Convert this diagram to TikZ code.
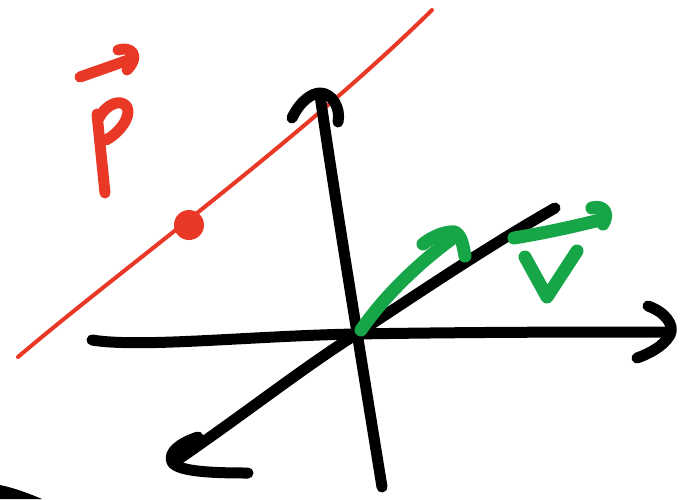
\documentclass[tikz,border=0pt]{standalone}
\definecolor{penred}{RGB}{234,56,38}
\definecolor{pengreen}{RGB}{22,166,72}
\tikzset{
  pen/.style={line cap=round, line join=round},
  axis/.style={pen, black, line width=11pt},
  gvec/.style={pen, pengreen, line width=13pt},
  rthin/.style={pen, penred, line width=4pt},
  rthick/.style={pen, penred, line width=11pt},
}
\begin{document}
\begin{tikzpicture}[x=1pt,y=-1pt]
\useasboundingbox (0,0) rectangle (680,499);
\fill[white] (0,0) rectangle (680,499);
% red line and point
\draw[rthin] (18,357) .. controls (120,270) and (300,140) .. (432,10);
\fill[penred] (189,225) circle (15);
% p with vector arrow
\draw[rthick] (80,77) -- (134,58);
\draw[rthick] (118,50) .. controls (131,46) and (141,55) .. (127,70);
\draw[rthick] (97,114) -- (105,193);
\draw[rthick] (99,118) .. controls (106,104) and (121,98) .. (127,107) .. controls (132,117) and (118,134) .. (106,140);
% vertical axis
\draw[axis] (382,487) .. controls (368,400) and (335,200) .. (320,95);
\draw[axis] (292,118) .. controls (300,101) and (312,93) .. (320,93) .. controls (332,93) and (341,108) .. (338,122);
% horizontal axis
\draw[axis] (92,340) .. controls (140,348) and (250,336) .. (355,334) .. controls (480,332) and (580,332) .. (668,332);
\draw[axis] (648,306) .. controls (665,312) and (675,325) .. (670,335) .. controls (663,347) and (648,354) .. (637,358);
% diagonal axis
\draw[axis] (176,461) .. controls (250,410) and (300,370) .. (355,335) .. controls (420,292) and (490,245) .. (555,208);
\draw[axis] (198,437) .. controls (180,443) and (168,452) .. (172,462) .. controls (178,472) and (215,473) .. (248,473);
% green vector
\draw[gvec] (361,330) .. controls (385,295) and (420,262) .. (453,238);
\draw[gvec] (423,244) .. controls (433,236) and (446,231) .. (455,232) .. controls (462,236) and (463,246) .. (465,256);
% green v label
\draw[gvec] (514,238) .. controls (550,232) and (580,225) .. (604,219);
\draw[gvec] (592,208) .. controls (602,205) and (610,212) .. (603,224);
\draw[gvec] (525,257) -- (547,297) -- (577,251);
% corner fragment
\fill[black] (0,485) .. controls (15,488) and (30,494) .. (42,499) -- (0,499) -- cycle;
\end{tikzpicture}
\end{document}
